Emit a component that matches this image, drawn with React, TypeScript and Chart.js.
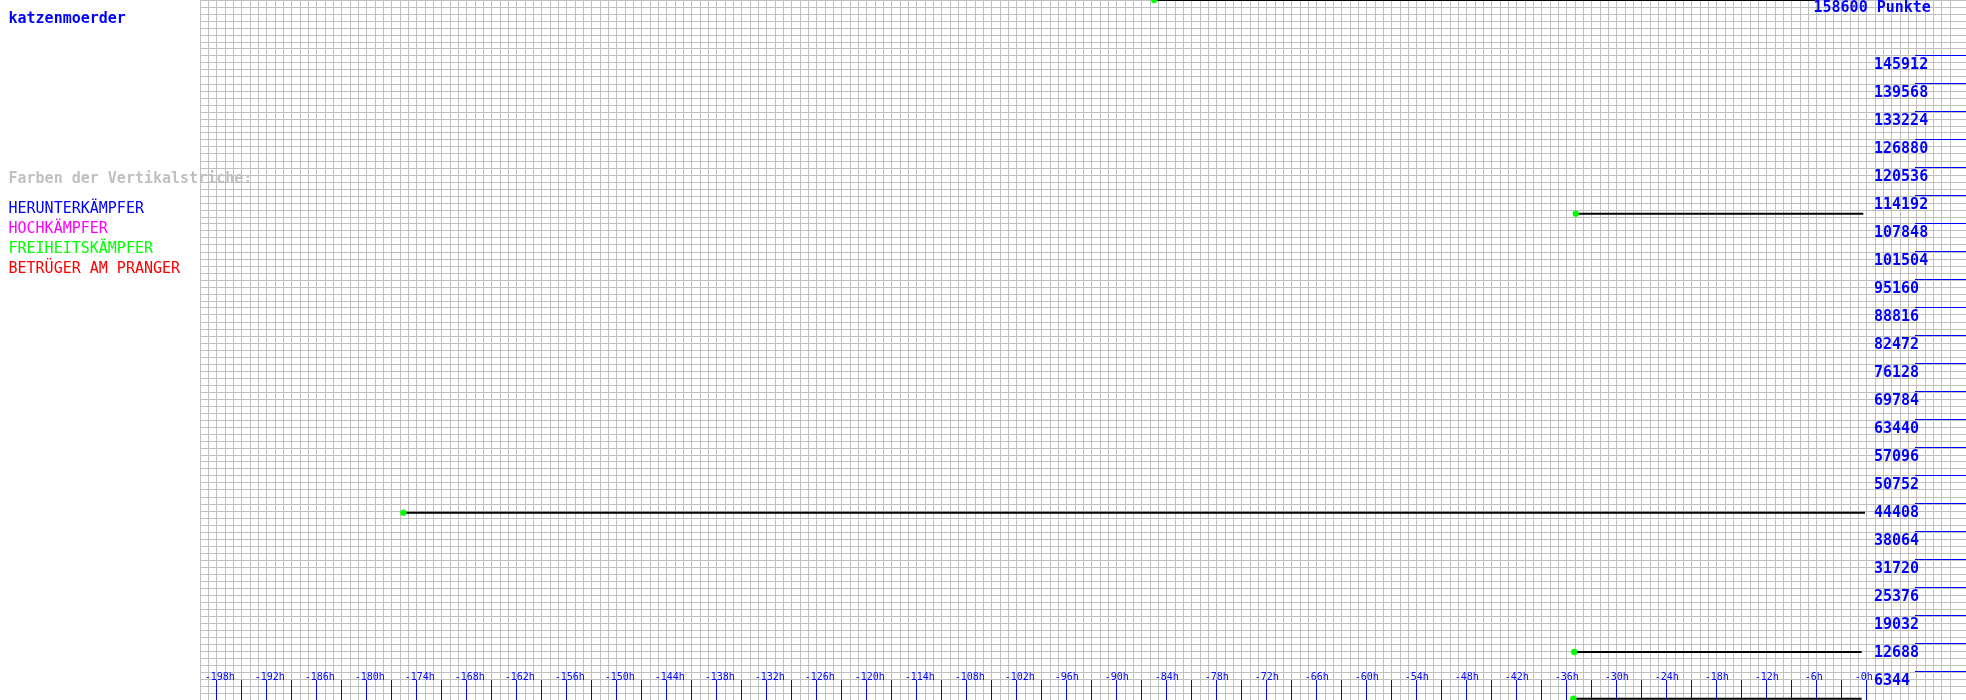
import React, { useEffect, useRef } from 'react';
import { Chart, registerables } from 'chart.js';

Chart.register(...registerables);

// ---- text ----
const playerName = 'katzenmoerder';
const legendTitle = 'Farben der Vertikalstriche:';
const legendLabels = ['HERUNTERKÄMPFER', 'HOCHKÄMPFER', 'FREIHEITSKÄMPFER', 'BETRÜGER AM PRANGER'];
const legendColors = ['#0000ff', '#ff00ff', '#00ff00', '#ff0000'];

// ---- data (hours relative to now, points) ----
const segmentStartHours = [-85.5, -34.9, -175.6, -35.1, -35.2];
const segmentEndHours = [-6.2, -0.4, -0.2, -0.6, -0.6];
const segmentPoints = [158600, 110180, 42440, 10875, 300];

// ---- axes ----
const xMin = -200;
const xMax = 11.92;
const yMin = 0;
const yMax = 158600;
const yMaxLabel = '158600 Punkte';
const yTickValues = [
  6344, 12688, 19032, 25376, 31720, 38064, 44408, 50752, 57096, 63440, 69784, 76128,
  82472, 88816, 95160, 101504, 107848, 114192, 120536, 126880, 133224, 139568, 145912,
];
const xTickHours = [
  -198, -192, -186, -180, -174, -168, -162, -156, -150, -144, -138, -132, -126, -120, -114, -108, -102,
  -96, -90, -84, -78, -72, -66, -60, -54, -48, -42, -36, -30, -24, -18, -12, -6, 0,
];
const xTickLabels = [
  '-198h', '-192h', '-186h', '-180h', '-174h', '-168h', '-162h', '-156h', '-150h', '-144h', '-138h', '-132h',
  '-126h', '-120h', '-114h', '-108h', '-102h', '-96h', '-90h', '-84h', '-78h', '-72h', '-66h', '-60h', '-54h',
  '-48h', '-42h', '-36h', '-30h', '-24h', '-18h', '-12h', '-6h', '-0h',
];
const xMinorTickHours = [
  -198, -195, -192, -189, -186, -183, -180, -177, -174, -171, -168, -165, -162, -159, -156, -153, -150,
  -147, -144, -141, -138, -135, -132, -129, -126, -123, -120, -117, -114, -111, -108, -105, -102, -99,
  -96, -93, -90, -87, -84, -81, -78, -75, -72, -69, -66, -63, -60, -57, -54, -51, -48, -45, -42, -39,
  -36, -33, -30, -27, -24, -21, -18, -15, -12, -9, -6, -3, 0,
];

const BLUE = '#0000ff';
const GRID = '#c0c0c0';
const MONO = '"DejaVu Sans Mono", monospace';

const decorPlugin = {
  id: 'decor',
  beforeDatasetsDraw(chart: any) {
    const { ctx, chartArea } = chart;
    const xs = chart.scales.x;
    const ys = chart.scales.y;
    ctx.save();
    ctx.strokeStyle = BLUE;
    ctx.lineWidth = 1;
    ctx.beginPath();
    // x minor/major tick marks
    xMinorTickHours.forEach((h) => {
      const px = Math.floor(xs.getPixelForValue(h)) + 0.5;
      ctx.moveTo(px, chartArea.bottom - 20);
      ctx.lineTo(px, chartArea.bottom);
    });
    // y tick marks at right
    yTickValues.forEach((v) => {
      const py = Math.round(ys.getPixelForValue(v)) - 0.5;
      ctx.moveTo(chartArea.right - 51, py);
      ctx.lineTo(chartArea.right, py);
    });
    ctx.stroke();

    ctx.fillStyle = BLUE;
    ctx.textAlign = 'left';
    ctx.textBaseline = 'alphabetic';
    // x labels
    ctx.font = `10px ${MONO}`;
    xTickHours.forEach((h, i) => {
      const px = xs.getPixelForValue(h);
      ctx.fillText(xTickLabels[i], px - 12, chartArea.bottom - 20);
    });
    // y labels
    ctx.font = `bold 15px ${MONO}`;
    yTickValues.forEach((v) => {
      const py = Math.round(ys.getPixelForValue(v));
      ctx.fillText(String(v), chartArea.right - 92, py + 12.5);
    });
    ctx.fillText(yMaxLabel, chartArea.right - 152.5, ys.getPixelForValue(yMax) + 11.5);
    ctx.restore();
  },
};

export default function App() {
  const canvasRef = useRef<HTMLCanvasElement | null>(null);

  useEffect(() => {
    if (!canvasRef.current) return;
    const chart = new Chart(canvasRef.current, {
      type: 'line',
      data: {
        datasets: segmentStartHours.map((s, i) => ({
          label: `segment ${i + 1}`,
          data: [
            { x: s, y: segmentPoints[i] },
            { x: segmentEndHours[i], y: segmentPoints[i] },
          ],
          borderColor: '#000000',
          borderWidth: 2,
          pointRadius: [3, 0],
          pointHoverRadius: 0,
          pointBackgroundColor: '#00ff00',
          pointBorderColor: '#00ff00',
          pointBorderWidth: 0.5,
          fill: false,
          tension: 0,
        })),
      },
      options: {
        responsive: false,
        animation: false,
        events: [],
        layout: { autoPadding: false, padding: { left: 200, right: 0, top: 0, bottom: 0 } },
        plugins: { legend: { display: false }, tooltip: { enabled: false } },
        scales: {
          x: {
            type: 'linear',
            min: xMin,
            max: xMax,
            grid: { color: GRID, lineWidth: 1, drawTicks: false },
            border: { display: false },
            ticks: { display: false, stepSize: 1, autoSkip: false },
          },
          y: {
            type: 'linear',
            min: yMin,
            max: yMax,
            grid: { color: GRID, lineWidth: 1, drawTicks: false },
            border: { display: false },
            ticks: { display: false, stepSize: 1586, autoSkip: false },
          },
        },
      },
      plugins: [decorPlugin],
    });
    return () => chart.destroy();
  }, []);

  const textStyle = (top: number, color: string, bold: boolean): React.CSSProperties => ({
    position: 'absolute',
    left: 8.5,
    top,
    color,
    fontFamily: MONO,
    fontSize: 15,
    lineHeight: '15px',
    fontWeight: bold ? 'bold' : 'normal',
    whiteSpace: 'nowrap',
    zIndex: 2,
  });

  return (
    <div style={{ position: 'absolute', left: 0, top: 0, width: 1966, height: 700, background: '#ffffff', overflow: 'hidden' }}>
      <canvas ref={canvasRef} width={1966} height={700} style={{ position: 'absolute', left: 0, top: 0, width: 1966, height: 700, display: 'block' }} />
      <div style={textStyle(10.8, BLUE, true)}>{playerName}</div>
      <div style={textStyle(170.6, GRID, true)}>{legendTitle}</div>
      {legendLabels.map((l, i) => (
        <div key={l} style={textStyle(200.6 + i * 20, legendColors[i], false)}>{l}</div>
      ))}
    </div>
  );
}
